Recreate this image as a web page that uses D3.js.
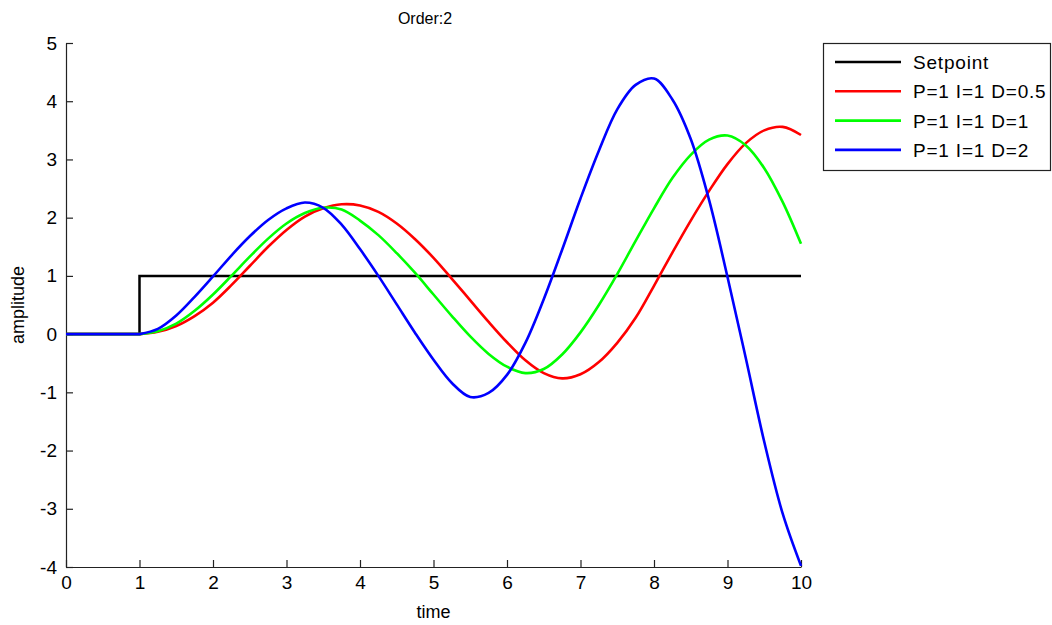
<!DOCTYPE html>
<html>
<head>
<meta charset="utf-8">
<script src="https://cdn.jsdelivr.net/npm/d3@7/dist/d3.min.js"></script>
<style>
  body { margin: 0; background: #fff; }
  svg text { font-family: "Liberation Sans", Arial, sans-serif; fill: #000; }
  .axis path, .axis line { stroke: #222; stroke-width: 1.2; }
</style>
</head>
<body>
<div id="chart"></div>
<script>
// time samples (s)
var time = [0, 0.25, 0.5, 0.75, 1, 1.25, 1.5, 1.75, 2, 2.25, 2.5, 2.75, 3, 3.25, 3.5, 3.75,
  4, 4.25, 4.5, 4.75, 5, 5.25, 5.5, 5.75, 6, 6.25, 6.5, 6.75, 7, 7.25, 7.5, 7.75,
  8, 8.25, 8.5, 8.75, 9, 9.25, 9.5, 9.75, 10];

// setpoint step
var setpointTime = [0, 1, 1, 10];
var setpointValue = [0, 0, 1, 1];

// responses
var respD05 = [0, 0, 0, 0, 0, 0.04, 0.14, 0.31, 0.54, 0.84, 1.17, 1.5, 1.79, 2.02, 2.16, 2.23,
  2.21, 2.1, 1.9, 1.63, 1.31, 0.95, 0.58, 0.21, -0.14, -0.45, -0.67, -0.76, -0.69, -0.48, -0.15, 0.28,
  0.83, 1.4, 1.95, 2.46, 2.92, 3.28, 3.5, 3.56, 3.42];
var respD1 = [0, 0, 0, 0, 0, 0.05, 0.18, 0.4, 0.68, 1.0, 1.33, 1.64, 1.9, 2.08, 2.17, 2.14,
  1.95, 1.7, 1.39, 1.05, 0.68, 0.31, -0.04, -0.34, -0.56, -0.67, -0.6, -0.35, 0.03, 0.5, 1.03, 1.6,
  2.16, 2.68, 3.08, 3.34, 3.41, 3.24, 2.85, 2.27, 1.55];
var respD2 = [0, 0, 0, 0, 0, 0.09, 0.32, 0.64, 0.99, 1.35, 1.68, 1.96, 2.16, 2.26, 2.17, 1.88,
  1.46, 1.0, 0.51, 0.02, -0.44, -0.84, -1.08, -1.01, -0.7, -0.15, 0.6, 1.45, 2.33, 3.15, 3.86, 4.28,
  4.39, 4.03, 3.35, 2.3, 0.98, -0.42, -1.85, -3.08, -3.98];

var seriesNames = ["Setpoint", "P=1 I=1 D=0.5", "P=1 I=1 D=1", "P=1 I=1 D=2"];
var seriesColors = ["#000000", "#ff0000", "#00ff00", "#0000ff"];

var xTicks = [0, 1, 2, 3, 4, 5, 6, 7, 8, 9, 10];
var yTicks = [-4, -3, -2, -1, 0, 1, 2, 3, 4, 5];

var width = 1052, height = 625;
var margin = { left: 66, top: 43, right: 251, bottom: 58 };
var plotW = width - margin.left - margin.right;
var plotH = height - margin.top - margin.bottom;

var svg = d3.select("#chart").append("svg")
  .attr("width", width)
  .attr("height", height);

var x = d3.scaleLinear().domain([0, 10]).range([margin.left, margin.left + plotW]);
var y = d3.scaleLinear().domain([-4, 5]).range([margin.top + plotH, margin.top]);

// axes, ticks pointing inward, plain hyphen for negatives
svg.append("g")
  .attr("class", "axis")
  .attr("transform", `translate(0,${margin.top + plotH})`)
  .call(d3.axisBottom(x).tickValues(xTicks).tickFormat(d => String(d))
    .tickSizeInner(-7).tickSizeOuter(0).tickPadding(9));

svg.append("g")
  .attr("class", "axis")
  .attr("transform", `translate(${margin.left},0)`)
  .call(d3.axisLeft(y).tickValues(yTicks).tickFormat(d => String(d))
    .tickSizeInner(-7).tickSizeOuter(0).tickPadding(9));

svg.selectAll(".axis text")
  .style("font-size", "19px")
  .style("font-family", "'Liberation Sans', Arial, sans-serif");

// lines
var line = d3.line()
  .x(d => x(d[0]))
  .y(d => y(d[1]));

var smoothLine = d3.line()
  .x(d => x(d[0]))
  .y(d => y(d[1]))
  .curve(d3.curveCatmullRom.alpha(0.5));

var setpointPts = setpointTime.map((t, i) => [t, setpointValue[i]]);
svg.append("path")
  .attr("d", line(setpointPts))
  .attr("fill", "none")
  .attr("stroke", seriesColors[0])
  .attr("stroke-width", 2.5);

[respD05, respD1, respD2].forEach(function (vals, k) {
  // flat part before the step, then the smooth response
  var flat = time.filter(t => t <= 1).map(t => [t, 0]);
  var rest = time.map((t, i) => [t, vals[i]]).filter(d => d[0] >= 1);
  svg.append("path")
    .attr("d", line(flat) + smoothLine(rest).replace(/^M/, "L"))
    .attr("fill", "none")
    .attr("stroke", seriesColors[k + 1])
    .attr("stroke-width", 2.6)
    .attr("stroke-linejoin", "round");
});

// title and axis labels
svg.append("text")
  .attr("x", 425)
  .attr("y", 24)
  .attr("text-anchor", "middle")
  .style("font-size", "16px")
  .text("Order:2");

svg.append("text")
  .attr("x", margin.left + plotW / 2)
  .attr("y", 618)
  .attr("text-anchor", "middle")
  .style("font-size", "18px")
  .text("time");

svg.append("text")
  .attr("transform", `translate(24,${margin.top + plotH / 2}) rotate(-90)`)
  .attr("text-anchor", "middle")
  .style("font-size", "18px")
  .text("amplitude");

// legend
var legend = svg.append("g").attr("transform", "translate(823,43)");
legend.append("rect")
  .attr("x", 0.5).attr("y", 0.5)
  .attr("width", 227).attr("height", 127)
  .attr("fill", "#fff")
  .attr("stroke", "#222")
  .attr("stroke-width", 1.2);

seriesNames.forEach(function (name, i) {
  var rowY = 19 + i * 29.3;
  legend.append("line")
    .attr("x1", 12).attr("x2", 78)
    .attr("y1", rowY).attr("y2", rowY)
    .attr("stroke", seriesColors[i])
    .attr("stroke-width", 2.6);
  legend.append("text")
    .attr("x", 90)
    .attr("y", rowY + 7)
    .style("font-size", "19px")
    .style("letter-spacing", "0.8px")
    .text(name);
});
</script>
</body>
</html>
